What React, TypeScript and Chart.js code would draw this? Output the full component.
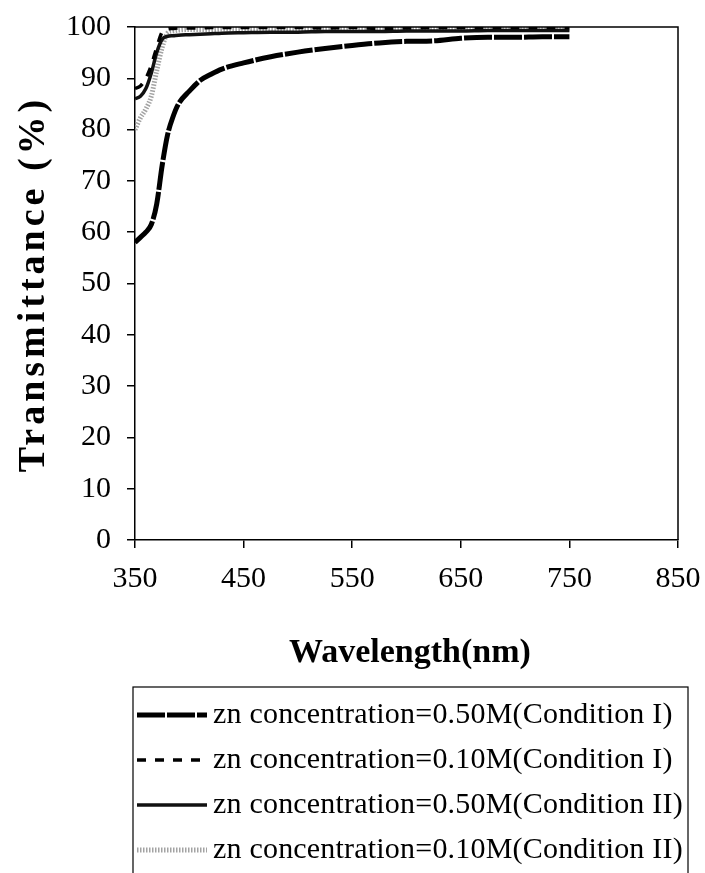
import React, { useEffect, useRef } from "react";
import { Chart, registerables } from "chart.js";

Chart.register(...registerables);

// Wavelength samples (nm)
const wavelengths = [350, 355, 360, 365, 370, 375, 380, 385, 390, 400, 410, 420, 430, 450, 475, 500, 525, 550, 575, 600, 625, 650, 675, 700, 725, 750];

// Transmittance (%) per series
const tr050CondI = [58, 59, 60, 61.5, 65.5, 73, 79, 82.5, 85, 87.5, 89.6, 90.8, 91.8, 93.0, 94.2, 95.1, 95.8, 96.4, 96.9, 97.2, 97.3, 97.8, 98.0, 98.0, 98.1, 98.1];
const tr010CondI = [88, 88.5, 90, 92.5, 96, 99, 99.6, 99.7, 99.8, 99.8, 99.8, 99.9, 99.9, 99.9, 99.9, 99.9, 99.8, 99.9, 99.7, 99.8, 99.9, 99.9, 99.9, 99.9, 99.9, 99.9];
const tr050CondII = [86, 86.5, 88, 91, 95, 97.6, 98.2, 98.3, 98.4, 98.5, 98.6, 98.7, 98.8, 98.9, 99.0, 99.0, 99.1, 99.1, 99.1, 99.2, 99.2, 99.2, 99.3, 99.3, 99.3, 99.3];
const tr010CondII = [80, 82.3, 84, 86.5, 91.5, 96, 98.8, 99.2, 99.4, 99.5, 99.5, 99.5, 99.6, 99.6, 99.6, 99.5, 99.6, 99.6, 99.6, 99.5, 99.6, 99.6, 99.6, 99.6, 99.6, 99.6];

const seriesLabels = [
  "zn concentration=0.50M(Condition I)",
  "zn concentration=0.10M(Condition I)",
  "zn concentration=0.50M(Condition II)",
  "zn concentration=0.10M(Condition II)",
];

const xAxisTitle = "Wavelength(nm)";
const yAxisTitle = "Transmittance (%)";

const xMin = 350;
const xMax = 850;
const xStep = 100;
const yMin = 0;
const yMax = 100;
const yStep = 10;

const SERIF = "'Liberation Serif', 'Times New Roman', Times, serif";

export default function App() {
  const canvasRef = useRef<HTMLCanvasElement | null>(null);

  useEffect(() => {
    const canvas = canvasRef.current;
    if (!canvas) return;

    const seriesValues = [tr050CondI, tr010CondI, tr050CondII, tr010CondII];
    const styles = [
      { color: "#000000", width: 5, dash: [28, 2] },
      { color: "#000000", width: 3.5, dash: [9, 9] },
      { color: "#111111", width: 3.5, dash: [] as number[] },
      { color: "#a3a3a3", width: 5, dash: [1.5, 1.5] },
    ];

    const datasets = seriesValues.map((vals, i) => ({
      label: seriesLabels[i],
      data: wavelengths.map((w, j) => ({ x: w, y: vals[j] })),
      borderColor: styles[i].color,
      backgroundColor: styles[i].color,
      borderWidth: styles[i].width,
      borderDash: styles[i].dash,
      pointRadius: 0,
      fill: false,
      cubicInterpolationMode: "monotone" as const,
    }));

    const decorPlugin = {
      id: "decor",
      afterDatasetsDraw(chart: any) {
        const { ctx, chartArea: a } = chart;
        ctx.save();
        ctx.strokeStyle = "#000";
        ctx.lineWidth = 1.5;
        ctx.beginPath();
        ctx.moveTo(a.left, a.top);
        ctx.lineTo(a.right, a.top);
        ctx.lineTo(a.right, a.bottom);
        ctx.stroke();
        ctx.restore();
      },
      afterDraw(chart: any) {
        const { ctx } = chart;
        // Y title
        ctx.save();
        ctx.fillStyle = "#000";
        ctx.font = `bold 38px ${SERIF}`;
        (ctx as any).letterSpacing = "4px";
        ctx.textAlign = "center";
        ctx.textBaseline = "middle";
        ctx.translate(34, 286);
        ctx.rotate(-Math.PI / 2);
        ctx.fillText(yAxisTitle, 2, 0);
        ctx.restore();

        // X title
        ctx.save();
        ctx.fillStyle = "#000";
        ctx.font = `bold 34px ${SERIF}`;
        ctx.textAlign = "center";
        ctx.textBaseline = "middle";
        ctx.fillText(xAxisTitle, 410, 653);
        ctx.restore();

        // Legend
        ctx.save();
        const boxLeft = 133;
        const boxTop = 687;
        const boxRight = 688;
        ctx.strokeStyle = "#000";
        ctx.lineWidth = 1.2;
        ctx.strokeRect(boxLeft, boxTop, boxRight - boxLeft, 300);
        ctx.font = `30px ${SERIF}`;
        (ctx as any).letterSpacing = "0.2px";
        ctx.textBaseline = "middle";
        ctx.textAlign = "left";
        ctx.fillStyle = "#000";
        seriesLabels.forEach((label, i) => {
          const y = 715 + i * 45;
          const st = styles[i];
          ctx.save();
          ctx.strokeStyle = st.color;
          ctx.lineWidth = st.width;
          ctx.setLineDash(st.dash);
          ctx.beginPath();
          ctx.moveTo(137, y);
          ctx.lineTo(207, y);
          ctx.stroke();
          ctx.restore();
          ctx.fillText(label, 213, y);
        });
        ctx.restore();
      },
    };

    const chart = new Chart(canvas, {
      type: "line",
      data: { datasets },
      options: {
        responsive: false,
        animation: false,
        devicePixelRatio: 1,
        layout: { padding: { top: 27, right: 27, bottom: 198, left: 0 } },
        plugins: {
          legend: { display: false },
          tooltip: { enabled: false },
        },
        scales: {
          x: {
            type: "linear",
            min: xMin,
            max: xMax,
            ticks: {
              stepSize: xStep,
              color: "#000",
              font: { family: SERIF, size: 30 },
              padding: 13,
              maxRotation: 0,
              autoSkip: false,
            },
            grid: { drawOnChartArea: false, drawTicks: true, tickLength: 8, color: "#000", lineWidth: 1.5 },
            border: { color: "#000", width: 1.5 },
            afterFit(scale: any) {
              scale.height = 135;
              scale.paddingLeft = 0;
              scale.paddingRight = 0;
            },
          },
          y: {
            type: "linear",
            min: yMin,
            max: yMax,
            ticks: {
              stepSize: yStep,
              color: "#000",
              font: { family: SERIF, size: 30 },
              padding: 16,
            },
            grid: { drawOnChartArea: false, drawTicks: true, tickLength: 8, color: "#000", lineWidth: 1.5 },
            border: { color: "#000", width: 1.5 },
            afterFit(scale: any) {
              scale.width = 135;
              scale.paddingTop = 0;
              scale.paddingBottom = 0;
            },
          },
        },
      },
      plugins: [decorPlugin],
    });

    return () => chart.destroy();
  }, []);

  return (
    <div style={{ position: "absolute", left: 0, top: 0, width: 705, height: 873, background: "#fff" }}>
      <canvas ref={canvasRef} width={705} height={873} style={{ display: "block" }} />
    </div>
  );
}
